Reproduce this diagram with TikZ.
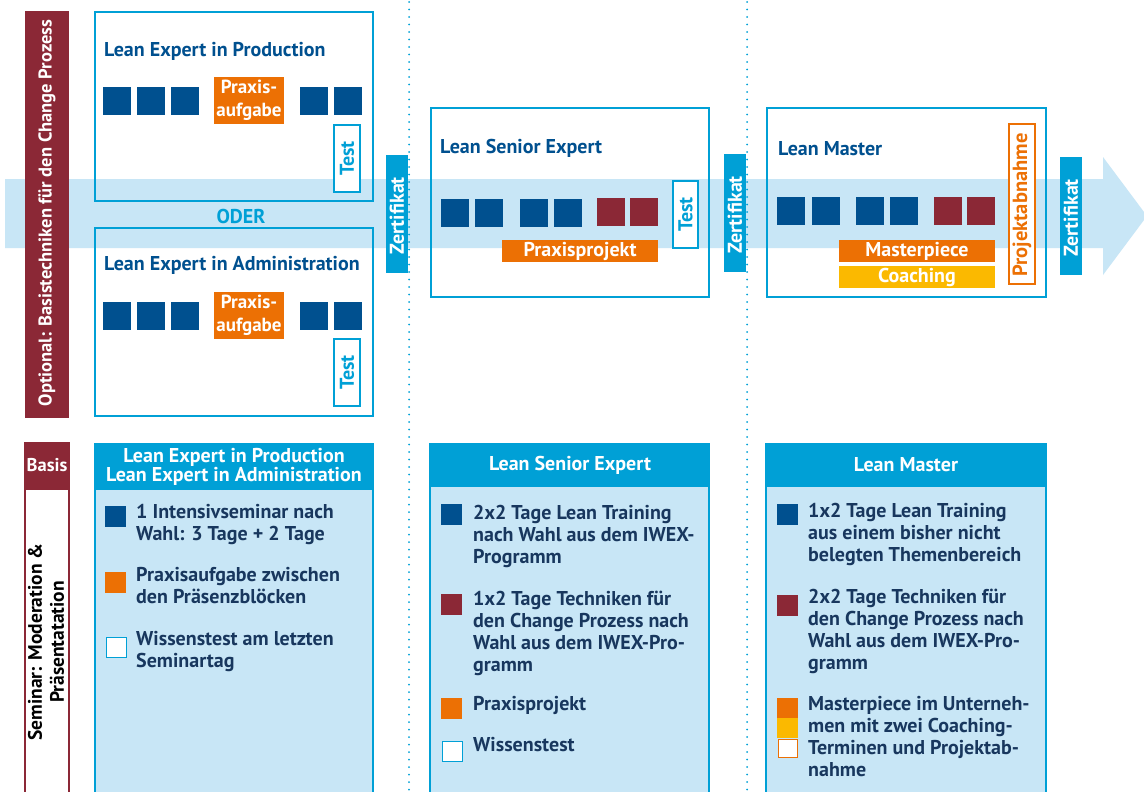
\documentclass[tikz,border=0pt]{standalone}
\usepackage{fontspec}
\setmainfont{PT Sans}
\definecolor{dblue}{HTML}{00508F}
\definecolor{maroon}{HTML}{8B2836}
\definecolor{orng}{HTML}{EC7004}
\definecolor{yell}{HTML}{FBB900}
\definecolor{cyanx}{HTML}{00A0D6}
\definecolor{lblue}{HTML}{C8E6F6}
\definecolor{navy}{HTML}{18375E}
\newcommand\fs{\fontsize{20}{22}\selectfont\bfseries}
\newcommand\sqr[3]{\fill[#1] (#2,#3) rectangle ++(28,28);}
\begin{document}
\begin{tikzpicture}[x=1pt,y=-1pt,
  frame/.style={draw=cyanx,line width=2pt},
  titletext/.style={text=dblue,font=\fs,inner sep=0pt,anchor=west},
  whitetext/.style={text=white,font=\fs,inner sep=0pt,align=center},
  rottext/.style={rotate=90,font=\fs,inner sep=0pt},
  itemtext/.style={text=navy,font=\fs,inner sep=0pt,anchor=north west,align=left},
  dotline/.style={cyanx,line width=2pt,line cap=round,dash pattern=on 0pt off 7.5pt}]
\clip (0,0) rectangle (1144,792);
\fill[white] (0,0) rectangle (1144,792);
% arrow band
\fill[lblue] (5,179) -- (1103,179) -- (1103,157) -- (1147,216) -- (1103,275) -- (1103,248) -- (5,248) -- cycle;
% dotted lines
\draw[dotline] (409,2) -- (409,792);
\draw[dotline] (747,2) -- (747,792);
% left maroon bar
\fill[maroon] (25,11) rectangle (69,418);
\node[rottext,text=white,font=\fontsize{18.5}{22}\selectfont\bfseries] (opt) at (47,213) {Optional: Basistechniken für den Change Prozess};
% ---- box 1
\draw[frame] (95,12) rectangle (373,201);
\node[titletext] (t1) at (104,51) {Lean Expert in Production};
\sqr{dblue}{103}{87}\sqr{dblue}{137}{87}\sqr{dblue}{171}{87}
\sqr{dblue}{300}{87}\sqr{dblue}{334}{87}
\fill[orng] (214,77) rectangle (284,124);
\node[whitetext,font=\fontsize{19}{23}\selectfont\bfseries] (p1) at (249,100.5) {Praxis-\\aufgabe};
\draw[draw=cyanx,fill=white,line width=2pt] (334,125) rectangle (360,192);
\node[rottext,text=cyanx] (test1) at (347,158.5) {Test};
\node[text=cyanx,font=\fs,inner sep=0pt] (oder) at (241,216) {ODER};
% ---- box 2
\draw[frame] (95,228) rectangle (373,416);
\node[titletext] (t2) at (104,265) {Lean Expert in Administration};
\sqr{dblue}{103}{302}\sqr{dblue}{137}{302}\sqr{dblue}{171}{302}
\sqr{dblue}{300}{302}\sqr{dblue}{334}{302}
\fill[orng] (214,292) rectangle (284,339);
\node[whitetext,font=\fontsize{19}{23}\selectfont\bfseries] (p2) at (249,315.5) {Praxis-\\aufgabe};
\draw[draw=cyanx,fill=white,line width=2pt] (334,339) rectangle (360,406);
\node[rottext,text=cyanx] (test2) at (347,372.5) {Test};
% Zertifikat 1
\fill[cyanx] (386,155) rectangle (408,273);
\node[rottext,text=white] (z1) at (397,216) {Zertifikat};
% ---- box 3 senior
\draw[frame] (431,108) rectangle (709,297);
\node[titletext] (t3) at (440,148) {Lean Senior Expert};
\sqr{dblue}{441}{199}\sqr{dblue}{475}{199}\sqr{dblue}{520}{199}\sqr{dblue}{554}{199}
\sqr{maroon}{597}{198}\sqr{maroon}{630}{198}
\fill[orng] (502,240) rectangle (658,262);
\node[whitetext] (pp) at (580,251) {Praxisprojekt};
\draw[draw=cyanx,fill=white,line width=2pt] (673,181) rectangle (698,248);
\node[rottext,text=cyanx] (test3) at (685.5,214.5) {Test};
% Zertifikat 2
\fill[cyanx] (724,154) rectangle (746,272);
\node[rottext,text=white] (z2) at (735,215) {Zertifikat};
% ---- box 4 master
\draw[frame] (767,108) rectangle (1046,297);
\node[titletext] (t4) at (778,149) {Lean Master};
\sqr{dblue}{777}{197}\sqr{dblue}{812}{197}\sqr{dblue}{856}{197}\sqr{dblue}{890}{197}
\sqr{maroon}{934}{197}\sqr{maroon}{967}{197}
\fill[orng] (839,240) rectangle (995,262);
\node[whitetext] (mp) at (917,251) {Masterpiece};
\fill[yell] (839,266) rectangle (995,288);
\node[whitetext] (co) at (917,277) {Coaching};
\draw[draw=orng,fill=white,line width=2pt] (1009,124) rectangle (1035,284);
\node[rottext,text=orng,font=\fontsize{20.5}{22}\selectfont\bfseries] (pa) at (1022,205) {Projektabnahme};
% Zertifikat 3
\fill[cyanx] (1060,157) rectangle (1082,275);
\node[rottext,text=white] (z3) at (1071,218) {Zertifikat};
% ================= bottom
% Basis bar
\draw[draw=maroon,fill=white,line width=2pt] (25,443) rectangle (69,800);
\fill[maroon] (24,442) rectangle (70,490);
\node[whitetext,font=\fontsize{18.5}{22}\selectfont\bfseries] (basis) at (47,465) {Basis};
\node[rottext,text=black,align=center,font=\fontsize{19.5}{22}\selectfont\bfseries] (sem) at (46,642) {Seminar: Moderation \&\\Präsentatation};
% bottom box 1
\fill[lblue] (95,444) rectangle (373,800);
\fill[cyanx] (95,444) rectangle (373,490);
\draw[frame] (95,444) rectangle (373,800);
\node[whitetext,font=\fontsize{20}{19}\selectfont\bfseries] (h1) at (234,467) {Lean Expert in Production\\Lean Expert in Administration};
\fill[dblue] (105,506) rectangle (126,527);
\node[itemtext] (i11) at (136,504) {1 Intensivseminar nach\\Wahl: 3 Tage + 2 Tage};
\fill[orng] (105,572) rectangle (126,593);
\node[itemtext] (i12) at (136,567) {Praxisaufgabe zwischen\\den Präsenzblöcken};
\draw[draw=cyanx,fill=white,line width=1pt] (106,637) rectangle (126,657);
\node[itemtext] (i13) at (136,631) {Wissenstest am letzten\\Seminartag};
% bottom box 2
\fill[lblue] (430,444) rectangle (709,800);
\fill[cyanx] (430,444) rectangle (709,487);
\draw[frame] (430,444) rectangle (709,800);
\node[whitetext] (h2) at (570,465) {Lean Senior Expert};
\fill[dblue] (441,504) rectangle (462,525);
\node[itemtext] (i21) at (473,505) {2x2 Tage Lean Training\\nach Wahl aus dem IWEX-\\Programm};
\fill[maroon] (441,594) rectangle (462,615);
\node[itemtext] (i22) at (473,591) {1x2 Tage Techniken für\\den Change Prozess nach\\Wahl aus dem IWEX-Pro-\\gramm};
\fill[orng] (441,698) rectangle (462,719);
\node[itemtext] (i23) at (473,696) {Praxisprojekt};
\draw[draw=cyanx,fill=white,line width=1pt] (442,741) rectangle (462,761);
\node[itemtext] (i24) at (473,737) {Wissenstest};
% bottom box 3
\fill[lblue] (766,444) rectangle (1046,800);
\fill[cyanx] (766,444) rectangle (1046,487);
\draw[frame] (766,444) rectangle (1046,800);
\node[whitetext] (h3) at (906,465) {Lean Master};
\fill[dblue] (777,504) rectangle (798,525);
\node[itemtext] (i31) at (808,503) {1x2 Tage Lean Training\\aus einem bisher nicht\\belegten Themenbereich};
\fill[maroon] (777,595) rectangle (798,616);
\node[itemtext] (i32) at (808,589) {2x2 Tage Techniken für\\den Change Prozess nach\\Wahl aus dem IWEX-Pro-\\gramm};
\fill[orng] (777,698) rectangle (798,718);
\fill[yell] (777,718) rectangle (798,738);
\draw[draw=orng,fill=white,line width=1pt] (778,739) rectangle (797,757);
\node[itemtext] (i33) at (808,696) {Masterpiece im Unterneh-\\men mit zwei Coaching-\\Terminen und Projektab-\\nahme};
\end{tikzpicture}
\end{document}
